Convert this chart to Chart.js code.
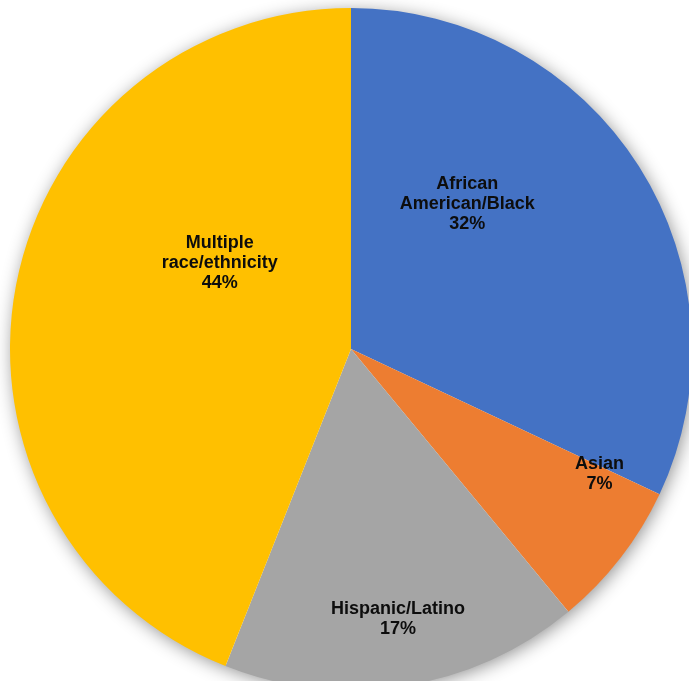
<!DOCTYPE html>
<html>
<head>
<meta charset="utf-8">
<script src="https://cdn.jsdelivr.net/npm/chart.js@4/dist/chart.umd.min.js"></script>
<style>
  html, body { margin: 0; padding: 0; background: #fff; overflow: hidden; }
  #wrap { position: absolute; left: -10px; top: -12px; width: 722px; height: 722px; }
</style>
</head>
<body>
<div id="wrap"><canvas id="pie"></canvas></div>
<script>
const groups  = [['African', 'American/Black'], ['Asian'], ['Hispanic/Latino'], ['Multiple', 'race/ethnicity']];
const shares  = [32, 7, 17, 44];
const colours = ['#4472C4', '#ED7D31', '#A5A5A5', '#FFC000'];

// where each label block sits, as fractions of the radius from the centre
const labelSpots = [[0.341, -0.426], [0.729, 0.368], [0.138, 0.791], [-0.385, -0.253]];

// soft drop shadow behind the whole pie
const pieShadow = {
  id: 'pieShadow',
  beforeDatasetsDraw(chart) {
    const arc = chart.getDatasetMeta(0).data[0];
    if (!arc) return;
    const ctx = chart.ctx;
    ctx.save();
    ctx.shadowColor = 'rgba(0,0,0,0.45)';
    ctx.shadowBlur = 18;
    ctx.shadowOffsetX = 2;
    ctx.shadowOffsetY = 3;
    ctx.fillStyle = '#fff';
    ctx.beginPath();
    ctx.arc(arc.x, arc.y, arc.outerRadius - 1, 0, Math.PI * 2);
    ctx.fill();
    ctx.restore();
  }
};

// category name + percentage inside each slice
const sliceLabels = {
  id: 'sliceLabels',
  afterDatasetsDraw(chart) {
    const meta = chart.getDatasetMeta(0);
    const ctx = chart.ctx;
    ctx.save();
    ctx.font = 'bold 18px "Liberation Sans", Arial, sans-serif';
    ctx.fillStyle = '#0d0d0d';
    ctx.textAlign = 'center';
    ctx.textBaseline = 'middle';
    meta.data.forEach((arc, i) => {
      const lines = groups[i].concat(shares[i] + '%');
      const cx = arc.x + labelSpots[i][0] * arc.outerRadius;
      const cy = arc.y + labelSpots[i][1] * arc.outerRadius;
      const lh = 20;
      const top = cy - (lines.length - 1) * lh / 2;
      lines.forEach((t, k) => ctx.fillText(t, cx, top + k * lh));
    });
    ctx.restore();
  }
};

new Chart(document.getElementById('pie'), {
  type: 'pie',
  data: {
    labels: groups.map(g => g.join(' ')),
    datasets: [{
      data: shares,
      backgroundColor: colours,
      borderWidth: 0,
      hoverOffset: 0
    }]
  },
  options: {
    responsive: true,
    maintainAspectRatio: false,
    animation: false,
    events: [],
    layout: { padding: 20 },
    plugins: {
      legend: { display: false },
      tooltip: { enabled: false }
    }
  },
  plugins: [pieShadow, sliceLabels]
});
</script>
</body>
</html>
